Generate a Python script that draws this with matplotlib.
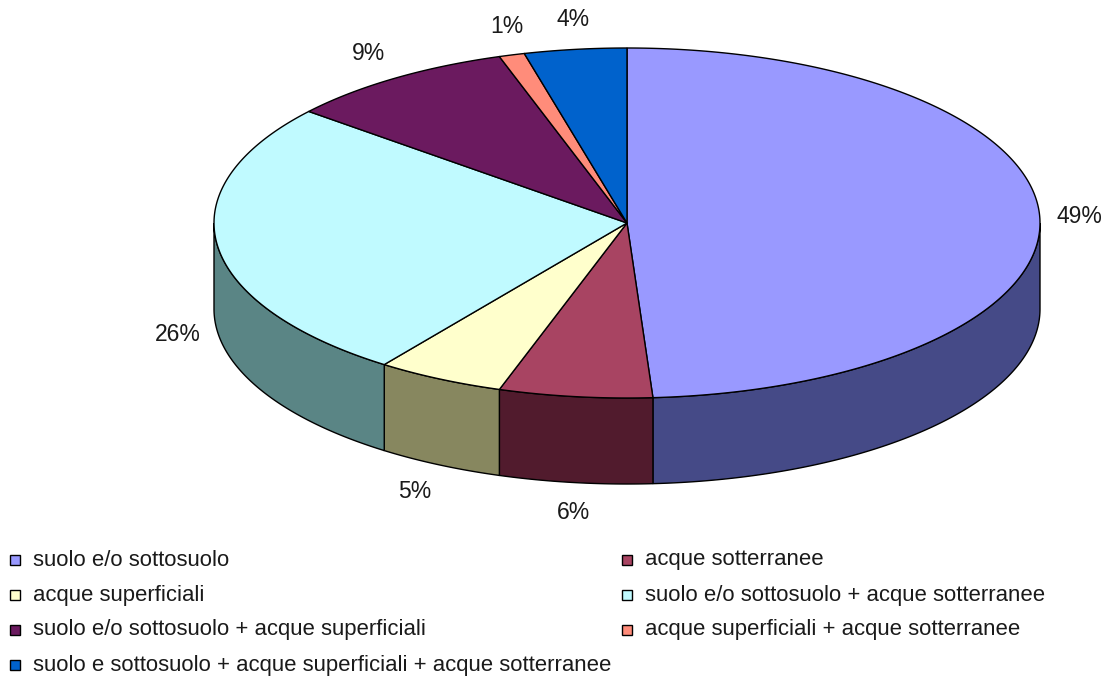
import numpy as np
import matplotlib.pyplot as plt
from matplotlib.patches import Polygon, Rectangle

# categorie e quote percentuali (torta 3D stile Excel)
categorie = [
    "suolo e/o sottosuolo",
    "acque sotterranee",
    "acque superficiali",
    "suolo e/o sottosuolo + acque sotterranee",
    "suolo e/o sottosuolo + acque superficiali",
    "acque superficiali + acque sotterranee",
    "suolo e sottosuolo + acque superficiali + acque sotterranee",
]
valori = [49, 6, 5, 26, 9, 1, 4]
colori_top = ["#9999FF", "#A84462", "#FFFFCC", "#C0FAFF", "#6B1A5F", "#FF8C7A", "#0062CC"]
colori_lato = ["#454A87", "#511B2D", "#87875F", "#5A8585", "#3A0E34", "#8A4B42", "#003A78"]

# geometria della torta in pixel
cx, cy = 627, 223
rx, ry = 413, 175
spessore = 86

fig = plt.figure(figsize=(11.07, 6.79), dpi=100)
ax = fig.add_axes([0, 0, 1, 1])
ax.set_xlim(0, 1107)
ax.set_ylim(679, 0)
ax.axis("off")


def arco(t1, t2, dy=0):
    t = np.radians(np.linspace(t1, t2, max(int(abs(t2 - t1) * 2), 2)))
    return np.column_stack([cx + rx * np.cos(t), cy - ry * np.sin(t) + dy])


tot = float(sum(valori))
cum = np.concatenate([[0], np.cumsum(valori)]) / tot
angoli = 90 - 360 * cum

# pareti laterali (solo la metà anteriore, angoli tra -180 e 0)
for i in range(len(valori)):
    a, b = angoli[i], angoli[i + 1]
    lo, hi = max(b, -180), min(a, 0)
    if hi <= lo:
        continue
    top = arco(hi, lo)
    bot = arco(lo, hi, spessore)
    ax.add_patch(Polygon(np.vstack([top, bot]), closed=True, fc=colori_lato[i],
                         ec="black", lw=1.0, joinstyle="miter"))

# spicchi superiori
for i in range(len(valori)):
    pts = np.vstack([[cx, cy], arco(angoli[i], angoli[i + 1])])
    ax.add_patch(Polygon(pts, closed=True, fc=colori_top[i], ec="black", lw=1.0))

# etichette percentuali, fuori dal bordo a metà spicchio
gx, gy = 17, 30
for i, v in enumerate(valori):
    m = np.radians((angoli[i] + angoli[i + 1]) / 2)
    c, s = np.cos(m), np.sin(m)
    x = cx + (rx + gx) * c
    y = cy - (ry + gy) * s
    if s < 0:
        y += spessore
    ha = "left" if c > 0.3 else ("right" if c < -0.3 else "center")
    ax.text(x, y, f"{v}%", ha=ha, va="center", fontsize=16.5,
            family="Liberation Sans", color="#1a1a1a")

# legenda su due colonne
for i, nome in enumerate(categorie):
    riga, col = divmod(i, 2)
    x0 = 10 if col == 0 else 622
    y0 = 560 + riga * 35
    ax.add_patch(Rectangle((x0, y0 - 5), 10, 10, fc=colori_top[i], ec="black", lw=1.0))
    ax.text(x0 + 23, y0, nome, ha="left", va="center", fontsize=15.9,
            family="Liberation Sans", color="#1a1a1a")

fig.savefig("out.png", dpi=100)
